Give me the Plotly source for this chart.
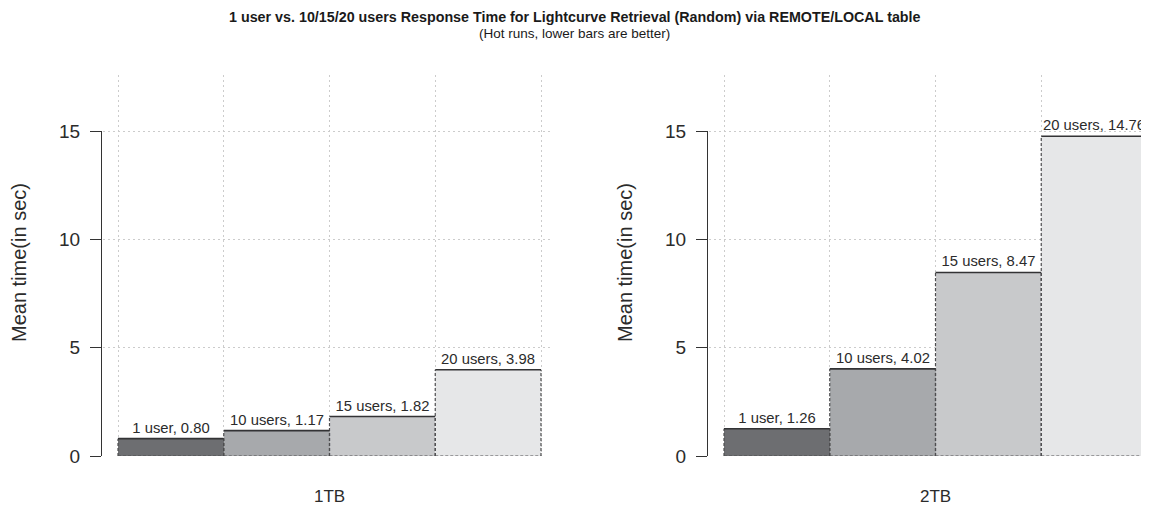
import plotly.graph_objects as go

# ---- data ----
panels = ["1TB", "2TB"]
user_labels = ["1 user", "10 users", "15 users", "20 users"]
times_1tb = [0.80, 1.17, 1.82, 3.98]
times_2tb = [1.26, 4.02, 8.47, 14.76]
y_ticks = [0, 5, 10, 15]

bar_colors = ["#6d6e71", "#a7a9ac", "#c8c9cb", "#e6e7e8"]
OFF = 8                      # page body margin in the browser
W, H = 1149 - OFF, 512 - OFF

def px_x(p):
    return (p - OFF) / W

def px_y(p):
    return 1 - (p - OFF) / H

fig = go.Figure()

positions = list(range(len(user_labels)))
series = [times_1tb, times_2tb]
xaxes = ["x", "x2"]
yaxes = ["y", "y2"]

for k, vals in enumerate(series):
    texts = [f"{u}, {v:.2f}" for u, v in zip(user_labels, vals)]
    fig.add_trace(go.Bar(
        x=positions, y=vals, width=1.0,
        marker=dict(color=bar_colors, line=dict(width=0)),
        text=texts, textposition="outside", constraintext="none",
        textfont=dict(family="Liberation Sans, Arial", size=14.8, color="#2b2b2b"),
        cliponaxis=False, xaxis=xaxes[k], yaxis=yaxes[k],
        showlegend=False, hoverinfo="skip",
    ))
    ox, oy = [], []
    tx, ty = [], []
    for i, v in zip(positions, vals):
        ox += [i - 0.5, i - 0.5, None, i + 0.5, i + 0.5, None, i - 0.5, i + 0.5, None]
        oy += [0, v, None, 0, v, None, 0, 0, None]
        tx += [i - 0.5, i + 0.5, None]
        ty += [v, v, None]
    fig.add_trace(go.Scatter(
        x=ox, y=oy, mode="lines",
        line=dict(color="#4d4d4f", width=1.2, dash="3px,2px"),
        xaxis=xaxes[k], yaxis=yaxes[k], showlegend=False, hoverinfo="skip",
    ))
    fig.add_trace(go.Scatter(
        x=tx, y=ty, mode="lines",
        line=dict(color="#333335", width=1.6),
        xaxis=xaxes[k], yaxis=yaxes[k], showlegend=False, hoverinfo="skip",
    ))

fig.add_trace(go.Scatter(x=[None], y=[None], xaxis="x3", yaxis="y3", showlegend=False, hoverinfo="skip"))
fig.add_trace(go.Scatter(x=[None], y=[None], xaxis="x4", yaxis="y4", showlegend=False, hoverinfo="skip"))

y_bottom_px, y_top_px, y15_px = 456, 75, 131
y_unit = (y_bottom_px - y15_px) / 15.0
y_top_val = (y_bottom_px - y_top_px) / y_unit

x_unit = 105.75
left_dom = [px_x(103), px_x(553)]
right_dom = [px_x(709), 1.0]
left_range = [-0.5 - 15 / x_unit, -0.5 - 15 / x_unit + (553 - 103) / x_unit]
right_range = [-0.5 - 15 / x_unit, -0.5 - 15 / x_unit + (1149 - 709) / x_unit]

grid_common = dict(showgrid=True, gridcolor="#cccccc", griddash="2px,3px", gridwidth=1,
                   zeroline=False, showline=False, ticks="", showticklabels=False,
                   fixedrange=True, automargin=False)
edges = [p - 0.5 for p in positions] + [positions[-1] + 0.5]

axis_common = dict(anchor="free", side="left", tickmode="array", tickvals=y_ticks,
                   ticks="outside", ticklen=11, tickcolor="#333333", showline=True,
                   linecolor="#333333", linewidth=1.2, showgrid=False, zeroline=False,
                   ticklabelstandoff=6, tickfont=dict(size=19, color="#2b2b2b"),
                   fixedrange=True, automargin=False)

fig.update_layout(
    width=W, height=H,
    margin=dict(l=0, r=0, t=0, b=0, autoexpand=False),
    plot_bgcolor="rgba(0,0,0,0)", paper_bgcolor="white",
    font=dict(family="Liberation Sans, Arial", color="#2b2b2b"),
    bargap=0,
    xaxis=dict(domain=left_dom, range=left_range, tickmode="array", tickvals=edges,
               anchor="y", **grid_common),
    xaxis2=dict(domain=right_dom, range=right_range, tickmode="array", tickvals=edges,
                anchor="y2", **grid_common),
    yaxis=dict(domain=[px_y(y_bottom_px), px_y(y_top_px)], range=[0, y_top_val],
               tickmode="array", tickvals=y_ticks, anchor="x", **grid_common),
    yaxis2=dict(domain=[px_y(y_bottom_px), px_y(y_top_px)], range=[0, y_top_val],
                tickmode="array", tickvals=y_ticks, anchor="x2", **grid_common),
    xaxis3=dict(domain=left_dom, visible=False, anchor="y3"),
    xaxis4=dict(domain=right_dom, visible=False, anchor="y4"),
    yaxis3=dict(domain=[px_y(y_bottom_px), px_y(y15_px)], range=[0, 15],
                position=px_x(101), **axis_common),
    yaxis4=dict(domain=[px_y(y_bottom_px), px_y(y15_px)], range=[0, 15],
                position=px_x(707), **axis_common),
)

annotations = [
    dict(text="<b>1 user vs. 10/15/20 users Response Time for Lightcurve Retrieval (Random) via REMOTE/LOCAL table</b>",
         x=px_x(574.5), y=px_y(17), xref="paper", yref="paper", showarrow=False,
         font=dict(size=14.3, color="#1a1a1a"), xanchor="center", yanchor="middle"),
    dict(text="(Hot runs, lower bars are better)",
         x=px_x(574.5), y=px_y(33), xref="paper", yref="paper", showarrow=False,
         font=dict(size=13.5, color="#1a1a1a"), xanchor="center", yanchor="middle"),
]
for k, name in enumerate(panels):
    annotations.append(dict(text=name, x=1.5, y=px_y(496), xref=xaxes[k], yref="paper",
                            showarrow=False, font=dict(size=17, color="#2b2b2b"),
                            xanchor="center", yanchor="middle"))
for xpx in [19, 625]:
    annotations.append(dict(text="Mean time(in sec)", x=px_x(xpx), y=px_y(263),
                            xref="paper", yref="paper", showarrow=False, textangle=-90,
                            font=dict(size=20, color="#2b2b2b"),
                            xanchor="center", yanchor="middle"))
fig.update_layout(annotations=annotations)

fig.write_html("out.html")
